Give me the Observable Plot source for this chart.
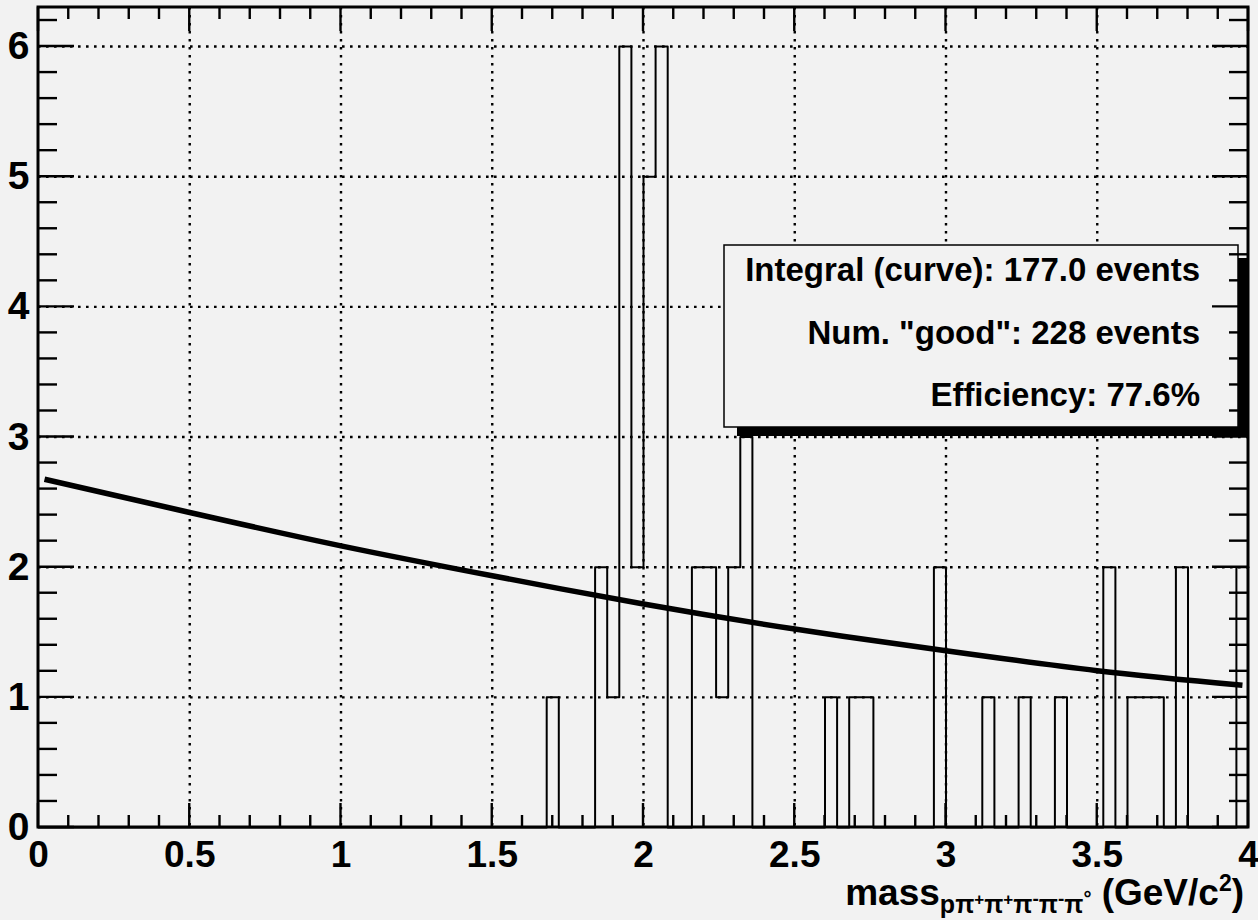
<!DOCTYPE html>
<html>
<head>
<meta charset="utf-8">
<script src="https://cdn.jsdelivr.net/npm/d3@7"></script>
<script src="https://cdn.jsdelivr.net/npm/@observablehq/plot@0.6"></script>
<style>
html, body { margin: 0; padding: 0; background: #f2f2f2; }
svg { display: block; }
</style>
</head>
<body>
<div id="chart"></div>
<script>
// ---- data ----
const binWidth = 0.04;
const xMin = 0, xMax = 4;
const binLowEdges = [1.68, 1.84, 1.88, 1.92, 1.96, 2.00, 2.04, 2.16, 2.20, 2.24, 2.28, 2.32,
                     2.60, 2.68, 2.72, 2.96, 3.12, 3.24, 3.36, 3.52, 3.60, 3.64, 3.68, 3.76, 3.96];
const binCounts   = [1, 2, 1, 6, 2, 5, 6, 2, 2, 1, 2, 3,
                     1, 1, 1, 2, 1, 1, 1, 2, 1, 1, 1, 2, 2];
const curveX = [0.02, 0.5, 1.0, 1.5, 2.0, 2.5, 3.0, 3.5, 3.98];
const curveY = [2.676, 2.42, 2.164, 1.934, 1.717, 1.525, 1.358, 1.205, 1.093];
const xMajorTicks = [0, 0.5, 1, 1.5, 2, 2.5, 3, 3.5, 4];
const xTickLabels = ["0", "0.5", "1", "1.5", "2", "2.5", "3", "3.5", "4"];
const yMajorTicks = [0, 1, 2, 3, 4, 5, 6];
const yTickLabels = ["0", "1", "2", "3", "4", "5", "6"];
const statsLines = ["Integral (curve): 177.0 events", "Num. \"good\": 228 events", "Efficiency: 77.6%"];

// ---- build tables ----
const nBins = Math.round((xMax - xMin) / binWidth);
const counts = new Array(nBins).fill(0);
binLowEdges.forEach((e, i) => { counts[Math.round((e - xMin) / binWidth)] = binCounts[i]; });
const histPts = counts.map((c, i) => ({x: xMin + i * binWidth, y: c}));
histPts.push({x: xMax, y: counts[nBins - 1]});
const curvePts = curveX.map((x, i) => ({x, y: curveY[i]}));
const xMinor = d3.range(0, 40.5, 1).map(v => v / 10).filter(v => Math.abs(v * 2 - Math.round(v * 2)) > 1e-6);
const yMinor = d3.range(0, 31.5, 1).map(v => v / 5).filter(v => Math.abs(v - Math.round(v)) > 1e-6);

const W = 1258, H = 920;
const M = {left: 38, right: 10, top: 7, bottom: 93};
const FONT = "'Liberation Sans', Arial, Helvetica, sans-serif";
const dotted = {stroke: "#000", strokeOpacity: 1, strokeWidth: 2.4, strokeDasharray: "2.6,5.4"};

const plot = Plot.plot({
  width: W, height: H,
  marginLeft: M.left, marginRight: M.right, marginTop: M.top, marginBottom: M.bottom,
  style: {background: "#f2f2f2", fontFamily: FONT, color: "#000"},
  x: {domain: [xMin, xMax]},
  y: {domain: [0, 6.3]},
  marks: [
    Plot.gridX(xMajorTicks.filter(v => v > xMin && v < xMax), dotted),
    Plot.gridY(yMajorTicks.filter(v => v > 0), dotted),
    Plot.line(histPts, {x: "x", y: "y", curve: "step-after", stroke: "#000", strokeWidth: 2}),
    Plot.line(curvePts, {x: "x", y: "y", curve: "natural", stroke: "#000", strokeWidth: 5.5, strokeLinecap: "butt"}),
    Plot.axisX(xMajorTicks, {anchor: "bottom", tickSize: 0, tickPadding: 13, label: null,
      tickFormat: d => xTickLabels[xMajorTicks.indexOf(d)], fontSize: 37, fontWeight: "bold"}),
    Plot.axisY(yMajorTicks, {anchor: "left", tickSize: 0, tickPadding: 9, label: null,
      tickFormat: d => yTickLabels[yMajorTicks.indexOf(d)], fontSize: 39, fontWeight: "bold"})
  ]
});

document.getElementById("chart").appendChild(plot);
const svg = d3.select(plot);
const xs = plot.scale("x"), ys = plot.scale("y");
const x0 = M.left, x1 = W - M.right, y0 = H - M.bottom, y1 = M.top;

// stats box (shadow + pave)
const box = {left: 724, right: 1238, top: 245, bottom: 427, shadow: 12};
const g = svg.append("g");
g.append("rect").attr("x", box.left + box.shadow + 1).attr("y", box.top + box.shadow + 1)
  .attr("width", Math.min(x1, box.right + box.shadow) - (box.left + box.shadow + 1))
  .attr("height", box.bottom - box.top - 4).attr("fill", "#000");
g.append("rect").attr("x", box.left).attr("y", box.top)
  .attr("width", box.right - box.left).attr("height", box.bottom - box.top)
  .attr("fill", "#f2f2f2").attr("stroke", "#000").attr("stroke-width", 1.5);
const baselines = [281, 344, 406];
statsLines.forEach((t, i) => {
  g.append("text").attr("x", 1200).attr("y", baselines[i]).attr("text-anchor", "end")
    .attr("font-family", FONT).attr("font-weight", "bold").attr("font-size", 33).attr("fill", "#000").text(t);
});

// ticks on all four sides, positioned by Plot's scales
const tk = svg.append("g").attr("stroke", "#000").attr("stroke-width", 2.4);
function tickV(v, len) {
  const px = xs.apply(v);
  tk.append("line").attr("x1", px).attr("x2", px).attr("y1", y0).attr("y2", y0 - len);
  tk.append("line").attr("x1", px).attr("x2", px).attr("y1", y1).attr("y2", y1 + len);
}
function tickH(v, len) {
  const py = ys.apply(v);
  tk.append("line").attr("y1", py).attr("y2", py).attr("x1", x0).attr("x2", x0 + len);
  tk.append("line").attr("y1", py).attr("y2", py).attr("x1", x1).attr("x2", x1 - len);
}
xMajorTicks.forEach(v => tickV(v, 24));
xMinor.forEach(v => tickV(v, 12));
yMajorTicks.forEach(v => tickH(v, 36));
yMinor.forEach(v => tickH(v, 19));

// frame
svg.append("rect").attr("x", x0).attr("y", y1).attr("width", x1 - x0).attr("height", y0 - y1)
  .attr("fill", "none").attr("stroke", "#000").attr("stroke-width", 3);

// axis title with sub/superscripts
const title = svg.append("text").attr("x", 1244).attr("y", 905).attr("text-anchor", "end")
  .attr("font-family", FONT).attr("font-weight", "bold").attr("font-size", 37).attr("fill", "#000");
title.append("tspan").text("mass");
const parts = [
  ["pπ", 25, 8], ["+", 17, -8], ["π", 25, 8], ["+", 17, -8], ["π", 25, 8], ["-", 19, -8],
  ["π", 25, 8], ["-", 19, -8], ["π", 25, 8], ["°", 20, -8], [" (GeV/c", 37, 0], ["2", 23, -14], [")", 37, 14]
];
parts.forEach(([t, fs, dy]) => title.append("tspan").attr("font-size", fs).attr("dy", dy).text(t));
</script>
</body>
</html>
